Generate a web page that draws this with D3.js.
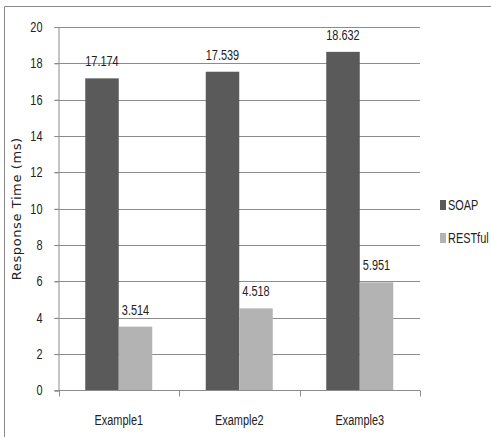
<!DOCTYPE html>
<html><head><meta charset="utf-8">
<script src="https://cdn.jsdelivr.net/npm/d3@7"></script>
<style>
html,body{margin:0;padding:0;background:#fff;}
svg{display:block;}
</style>
</head><body>
<svg id="c" width="491" height="437"></svg>
<script>
const categories = ["Example1", "Example2", "Example3"];
const seriesNames = ["SOAP", "RESTful"];
const soapValues = [17.174, 17.539, 18.632];
const restValues = [3.514, 4.518, 5.951];
const valueLabels = [["17.174","17.539","18.632"],["3.514","4.518","5.951"]];
const yTicks = [0, 2, 4, 6, 8, 10, 12, 14, 16, 18, 20];
const colors = ["#5a5a5a", "#b3b3b3"];

(function () {
const seriesValues = [soapValues, restValues];
const svg = d3.select("#c");
const font = "'Liberation Sans', Arial, sans-serif";
const gridColor = "#8c8c8c";
const narrowK = 0.78;
function narrow(sel) {
  sel.each(function () {
    const w = this.getComputedTextLength();
    if (w > 0) d3.select(this).attr("textLength", w * narrowK).attr("lengthAdjust", "spacingAndGlyphs");
  });
}

const pLeft = 58.5, pRight = 420, pTop = 27, pBottom = 390.5;
const x = d3.scaleBand().domain(categories).range([pLeft, pRight]).padding(0);
const groupW = x.bandwidth() * 0.556;
const xs = d3.scaleBand().domain(seriesNames)
  .range([(x.bandwidth() - groupW) / 2, (x.bandwidth() + groupW) / 2]).padding(0);
const y = d3.scaleLinear().domain([0, 20]).range([pBottom, pTop]);

// frame
svg.append("line").attr("x1", 4.5).attr("x2", 491).attr("y1", 6.5).attr("y2", 6.5)
  .attr("stroke", "#8a8a8a").attr("stroke-width", 1);
svg.append("line").attr("x1", 4.5).attr("x2", 4.5).attr("y1", 6.5).attr("y2", 437)
  .attr("stroke", "#8a8a8a").attr("stroke-width", 1);

// gridlines
svg.append("g").selectAll("line").data(yTicks.filter(t => t > 0)).join("line")
  .attr("x1", pLeft - 4).attr("x2", pRight)
  .attr("y1", d => Math.round(y(d)) + 0.5).attr("y2", d => Math.round(y(d)) + 0.5)
  .attr("stroke", gridColor).attr("stroke-width", 1);

// y axis
const yAxis = svg.append("g").attr("transform", `translate(${pLeft},0)`)
  .call(d3.axisLeft(y).tickValues(yTicks).tickSize(4).tickPadding(12).tickFormat(d3.format("d")));
yAxis.select(".domain").attr("stroke", gridColor);
yAxis.selectAll(".tick line").attr("stroke", gridColor);
yAxis.selectAll(".tick text").attr("font-family", font).attr("font-size", 14).attr("fill", "#222").call(narrow);

// bars
seriesNames.forEach((s, si) => {
  svg.append("g").selectAll("rect").data(categories).join("rect")
    .attr("x", c => x(c) + xs(s))
    .attr("width", xs.bandwidth())
    .attr("y", (c, i) => y(seriesValues[si][i]))
    .attr("height", (c, i) => y(0) - y(seriesValues[si][i]))
    .attr("fill", colors[si]);
  svg.append("g").selectAll("text").data(categories).join("text")
    .attr("x", c => x(c) + xs(s) + xs.bandwidth() / 2)
    .attr("y", (c, i) => y(seriesValues[si][i]) - 12)
    .attr("text-anchor", "middle")
    .attr("font-family", font).attr("font-size", 14).attr("fill", "#222")
    .text((c, i) => valueLabels[si][i]).call(narrow);
});

// x axis
const xAxis = svg.append("g").attr("transform", `translate(0,${pBottom})`)
  .call(d3.axisBottom(x).tickSize(0).tickPadding(25));
xAxis.select(".domain").remove();
svg.append("line").attr("x1", pLeft - 4).attr("x2", pRight).attr("y1", pBottom).attr("y2", pBottom)
  .attr("stroke", gridColor);
svg.append("g").selectAll("line").data([pLeft, ...categories.map(c => x(c) + x.bandwidth())]).join("line")
  .attr("x1", d => Math.round(d) + 0.5).attr("x2", d => Math.round(d) + 0.5)
  .attr("y1", pBottom).attr("y2", pBottom + 6).attr("stroke", gridColor);
xAxis.selectAll(".tick text").attr("font-family", font).attr("font-size", 14).attr("fill", "#222").call(narrow);

// y title
svg.append("text")
  .attr("transform", `translate(21,${(pTop + pBottom) / 2}) rotate(-90)`)
  .attr("text-anchor", "middle")
  .attr("font-family", "'DejaVu Sans', Verdana, sans-serif").attr("font-size", 13).attr("fill", "#222")
  .attr("letter-spacing", 0.6)
  .text("Response Time (ms)");

// legend
const lg = svg.append("g").attr("transform", "translate(440,200)");
seriesNames.forEach((s, i) => {
  lg.append("rect").attr("x", 0).attr("y", i * 33).attr("width", 6).attr("height", 10).attr("fill", colors[i]);
  lg.append("text").attr("transform", `translate(8,${i * 33 + 10}) scale(${narrowK},1)`)
    .attr("font-family", font).attr("font-size", 14).attr("fill", "#222").text(s);
});
})();
</script>
</body></html>
